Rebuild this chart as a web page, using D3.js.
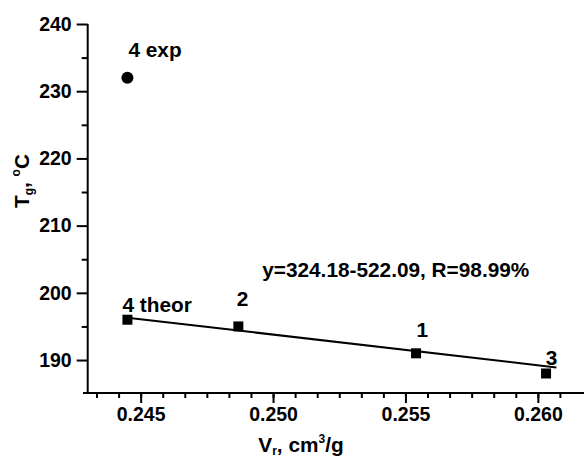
<!DOCTYPE html>
<html><head><meta charset="utf-8">
<script src="https://cdn.jsdelivr.net/npm/d3@7"></script>
<style>
html,body{margin:0;padding:0;background:#fff;}
svg{display:block;}
text{font-family:"Liberation Sans",Arial,sans-serif;font-weight:bold;fill:#000;}
</style></head>
<body>
<svg id="c" width="584" height="459"></svg>
<script>
// ---- data ----
const theorNames = ["1", "2", "3", "4 theor"];
const theorV = [0.2554, 0.24869, 0.26031, 0.2445];
const theorT = [191, 195, 188, 196];
const expNames = ["4 exp"];
const expV = [0.2445];
const expT = [232];
const fitV = [0.2445, 0.2607];
const fitT = [196.3, 188.9];
const equationText = "y=324.18-522.09, R=98.99%";
const xTickLabels = [0.245, 0.250, 0.255, 0.260];
const yTickLabels = [190, 200, 210, 220, 230, 240];

// ---- layout ----
const svg = d3.select("#c");
const fsTick = 19.5;
const fs = 20.8;
const x = d3.scaleLinear().domain([0.243, 0.262]).range([87.7, 590.8]);
const y = d3.scaleLinear().domain([185.2, 240]).range([392.3, 24]);
const axisY = 393;
const font = '"Liberation Sans",Arial,sans-serif';

const xMinorVals = d3.range(-2, 20).map(i => 0.245 + i * 0.005 / 6).filter(v => x(v) > 90 && x(v) < 584);

const gx = svg.append("g").attr("transform", `translate(0,${axisY})`);
gx.call(d3.axisBottom(x).tickValues(xMinorVals).tickSize(5).tickFormat(""));
gx.select(".domain").remove();
const gx2 = svg.append("g").attr("transform", `translate(0,${axisY})`);
gx2.call(d3.axisBottom(x).tickValues(xTickLabels).tickSize(10).tickPadding(3).tickFormat(d3.format(".3f")));
gx2.select(".domain").remove();
gx2.selectAll("text").attr("font-size", fsTick).attr("dy", "0.78em").attr("font-family", font).attr("font-weight", "bold").attr("fill", "#000");

const yMinorVals = d3.range(195, 240, 10);
const gy = svg.append("g").attr("transform", `translate(${x(0.243)},0)`);
gy.call(d3.axisLeft(y).tickValues(yMinorVals).tickSize(6).tickFormat(""));
gy.select(".domain").remove();
const gy2 = svg.append("g").attr("transform", `translate(${x(0.243)},0)`);
gy2.call(d3.axisLeft(y).tickValues(yTickLabels).tickSize(11).tickPadding(5));
gy2.select(".domain").remove();
gy2.selectAll("text").attr("font-size", fsTick).attr("font-family", font).attr("font-weight", "bold").attr("fill", "#000");
svg.selectAll("g line").attr("stroke", "#000").attr("stroke-width", 2);

// axis lines
svg.append("line").attr("x1", 83).attr("x2", 584).attr("y1", axisY).attr("y2", axisY)
  .attr("stroke", "#000").attr("stroke-width", 2);
svg.append("line").attr("x1", x(0.243)).attr("x2", x(0.243)).attr("y1", y(240)).attr("y2", axisY)
  .attr("stroke", "#000").attr("stroke-width", 2);

// fit line
svg.append("path")
  .datum(fitV.map((v, i) => [v, fitT[i]]))
  .attr("d", d3.line().x(d => x(d[0])).y(d => y(d[1])))
  .attr("fill", "none").attr("stroke", "#000").attr("stroke-width", 2);

// theor squares
const theor = theorV.map((v, i) => ({name: theorNames[i], v, t: theorT[i]}));
const sq = 10;
svg.selectAll("rect.p").data(theor).enter().append("rect")
  .attr("x", d => x(d.v) - sq / 2).attr("y", d => y(d.t) - sq / 2)
  .attr("width", sq).attr("height", sq).attr("fill", "#000");

// exp circle
const exp = expV.map((v, i) => ({name: expNames[i], v, t: expT[i]}));
svg.selectAll("circle.p").data(exp).enter().append("circle")
  .attr("cx", d => x(d.v)).attr("cy", d => y(d.t)).attr("r", 6).attr("fill", "#000");

// point labels
const labelOffset = {"1": [0.5, -16], "2": [-1.6, -20], "3": [-0.3, -8], "4 theor": [-5, -8], "4 exp": [1, -21]};
svg.selectAll("text.lbl").data(theor.concat(exp)).enter().append("text")
  .attr("class", "lbl")
  .attr("x", d => x(d.v) + labelOffset[d.name][0])
  .attr("y", d => y(d.t) + labelOffset[d.name][1])
  .attr("font-size", fs).text(d => d.name);

// equation
svg.append("text").attr("x", x(0.24959)).attr("y", y(202.4)).attr("font-size", fs).text(equationText);

// x title
const xt = svg.append("text").attr("x", 258.3).attr("y", 452).attr("font-size", fs);
xt.append("tspan").text("V");
xt.append("tspan").attr("font-size", 12).attr("dy", 3).text("r");
xt.append("tspan").attr("dy", -3).text(", cm");
xt.append("tspan").attr("font-size", 12).attr("dy", -9).text("3");
xt.append("tspan").attr("dy", 9).text("/g");

// y title
const yt = svg.append("text").attr("transform", "translate(29,208) rotate(-90)").attr("font-size", fs);
yt.append("tspan").text("T");
yt.append("tspan").attr("font-size", 12).attr("dy", 4).text("g");
yt.append("tspan").attr("dy", -4).text(", ");
yt.append("tspan").attr("font-size", 12).attr("dy", -9).text("o");
yt.append("tspan").attr("dy", 9).text("C");
</script>
</body></html>
